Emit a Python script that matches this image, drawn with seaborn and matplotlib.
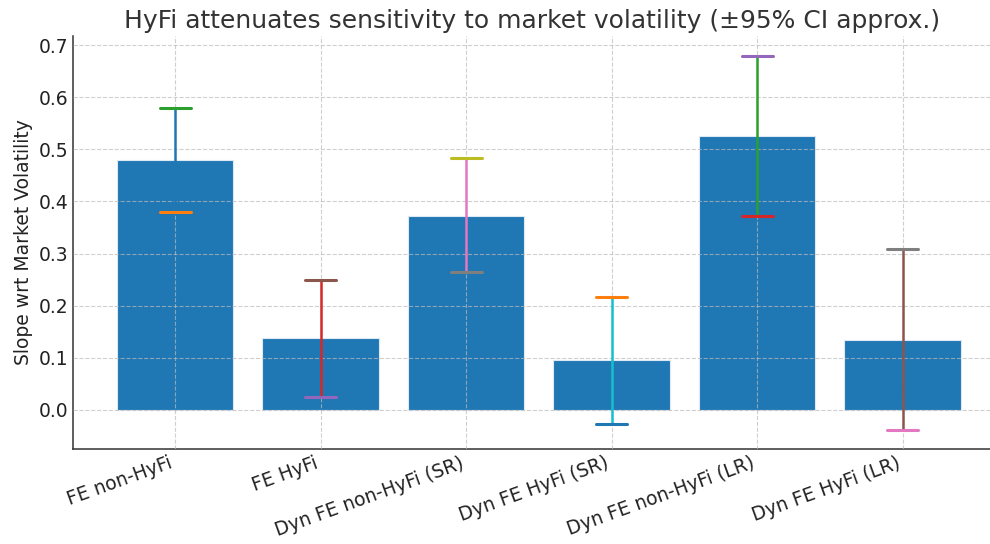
import pandas as pd
import matplotlib
matplotlib.use("Agg")
import matplotlib.pyplot as plt
import seaborn as sns

labels = ["FE non-HyFi", "FE HyFi", "Dyn FE non-HyFi (SR)",
          "Dyn FE HyFi (SR)", "Dyn FE non-HyFi (LR)", "Dyn FE HyFi (LR)"]
slopes = [0.480, 0.137, 0.373, 0.095, 0.526, 0.134]
ci_low = [0.380, 0.025, 0.264, -0.027, 0.373, -0.039]
ci_high = [0.580, 0.250, 0.483, 0.217, 0.680, 0.308]

df = pd.DataFrame({"model": labels, "slope": slopes})

sns.set_style("white")
plt.rcParams["font.family"] = ["DejaVu Sans"]

fig, ax = plt.subplots(figsize=(9.9, 5.44), dpi=100)
sns.barplot(data=df, x="model", y="slope", color="#1f77b4", saturation=1,
            width=0.8, edgecolor="#dfe9f3", linewidth=0.8, ax=ax)

# error bars: each piece takes the next colour of the default cycle
cycle = ["#1f77b4", "#ff7f0e", "#2ca02c", "#d62728", "#9467bd",
         "#8c564b", "#e377c2", "#7f7f7f", "#bcbd22", "#17becf"]
k = 0
cap = 0.107
for i, (lo, hi) in enumerate(zip(ci_low, ci_high)):
    ax.plot([i, i], [lo, hi], color=cycle[k % 10], lw=1.8, zorder=4)
    k += 1
    ax.plot([i - cap, i + cap], [lo, lo], color=cycle[k % 10], lw=2.2, zorder=4)
    k += 1
    ax.plot([i - cap, i + cap], [hi, hi], color=cycle[k % 10], lw=2.2, zorder=4)
    k += 1

ax.set_ylim(-0.075, 0.718)
ax.set_xlim(-0.7, 5.6)
ax.set_axisbelow(False)
ax.grid(True, linestyle="--", color="#bbbbbb", linewidth=0.8, alpha=0.7)
for s in ["top", "right"]:
    ax.spines[s].set_visible(False)
for s in ["left", "bottom"]:
    ax.spines[s].set_color("#333333")
    ax.spines[s].set_linewidth(1.1)
ax.tick_params(axis="both", direction="in", labelsize=13.5, colors="#333333",
               length=5)
ax.tick_params(axis="both", labelcolor="#222222")
plt.setp(ax.get_xticklabels(), rotation=20, ha="right")
ax.set_xlabel("")
ax.set_ylabel("Slope wrt Market Volatility", fontsize=13.5, color="#222222")
ax.set_title("HyFi attenuates sensitivity to market volatility (±95% CI approx.)",
             fontsize=18, color="#333333")

fig.subplots_adjust(left=0.074, right=1.0, top=0.934, bottom=0.175)
fig.savefig("out.png", dpi=100)
